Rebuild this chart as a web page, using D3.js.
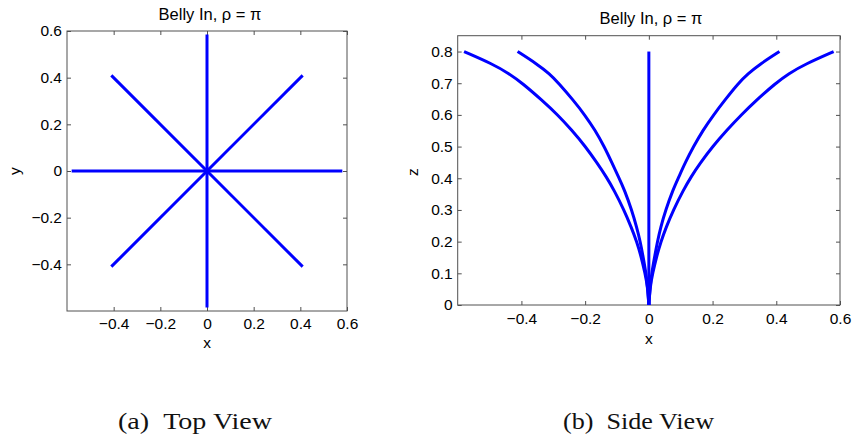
<!DOCTYPE html>
<html>
<head>
<meta charset="utf-8">
<script src="https://cdn.jsdelivr.net/npm/d3@7"></script>
<style>
  html, body { margin: 0; padding: 0; background: #fff; }
  svg { display: block; }
  .tick text { font-family: "Liberation Sans", Arial, sans-serif; font-size: 15.5px; fill: #000; }
  .lbl { font-family: "Liberation Sans", Arial, sans-serif; font-size: 15.5px; fill: #000; }
  .ttl { font-family: "Liberation Sans", Arial, sans-serif; font-size: 16.5px; fill: #000; }
  .cap { font-family: "Liberation Serif", "DejaVu Serif", serif; font-size: 24px; fill: #111; }
</style>
</head>
<body>
<svg id="fig" width="854" height="439"></svg>
<script>
// ---- Top view: eight spokes from the origin, end points (x, y) ----
const spokeEndX = [0.58, 0.41, 0, -0.41, -0.58, -0.41, 0, 0.41];
const spokeEndY = [0, 0.41, 0.585, 0.41, 0, -0.41, -0.585, -0.41];

const topTicks = [-0.4, -0.2, 0, 0.2, 0.4, 0.6];
const topTickLabels = ["\u22120.4", "\u22120.2", "0", "0.2", "0.4", "0.6"];

// ---- Side view: profiles (x, z) of the five projected curves ----
const outerRightX = [0, 0.004, 0.012, 0.024, 0.038, 0.054, 0.077, 0.108, 0.132, 0.162, 0.200, 0.245, 0.290, 0.337, 0.398, 0.438, 0.492, 0.580];
const outerRightZ = [0, 0.058, 0.1, 0.152, 0.2, 0.245, 0.3, 0.362, 0.404, 0.449, 0.5, 0.552, 0.6, 0.646, 0.7, 0.730, 0.761, 0.8];
const innerRightX = [0, 0.004, 0.009, 0.018, 0.027, 0.037, 0.053, 0.075, 0.094, 0.114, 0.140, 0.170, 0.203, 0.238, 0.281, 0.311, 0.350, 0.410];
const innerRightZ = [0, 0.058, 0.1, 0.152, 0.2, 0.245, 0.3, 0.362, 0.404, 0.449, 0.5, 0.552, 0.6, 0.646, 0.7, 0.730, 0.761, 0.8];
const outerLeftX = [0, -0.004, -0.012, -0.024, -0.038, -0.055, -0.078, -0.109, -0.133, -0.163, -0.199, -0.242, -0.286, -0.335, -0.397, -0.438, -0.491, -0.580];
const outerLeftZ = [0, 0.058, 0.1, 0.152, 0.2, 0.245, 0.3, 0.362, 0.404, 0.449, 0.5, 0.552, 0.6, 0.646, 0.7, 0.730, 0.761, 0.8];
const innerLeftX = [0, -0.004, -0.009, -0.018, -0.027, -0.038, -0.054, -0.076, -0.095, -0.116, -0.140, -0.169, -0.201, -0.237, -0.283, -0.312, -0.352, -0.412];
const innerLeftZ = [0, 0.058, 0.1, 0.152, 0.2, 0.245, 0.3, 0.362, 0.404, 0.449, 0.5, 0.552, 0.6, 0.646, 0.7, 0.730, 0.761, 0.8];
const centerX = [0, 0];
const centerZ = [0, 0.8];

const sideXTicks = [-0.4, -0.2, 0, 0.2, 0.4, 0.6];
const sideXTickLabels = ["\u22120.4", "\u22120.2", "0", "0.2", "0.4", "0.6"];
const sideZTicks = [0, 0.1, 0.2, 0.3, 0.4, 0.5, 0.6, 0.7, 0.8];
const sideZTickLabels = ["0", "0.1", "0.2", "0.3", "0.4", "0.5", "0.6", "0.7", "0.8"];

const titleText = "Belly In, \u03c1 = \u03c0";
const captions = ["(a)\u2002Top View", "(b)\u2002Side View"];

const svg = d3.select("#fig");
const LINE = "#0000ff";
const AXIS = "#505050";

function zip(xs, ys) { return xs.map((x, i) => [x, ys[i]]); }

// Draws a boxed axes frame with inward ticks on all four sides
function frame(g, x, y, xt, xl, yt, yl, xPad, yPad) {
  const [x0, x1] = x.range();
  const [y0, y1] = y.range();
  const bottom = g.append("g").attr("transform", `translate(0,${y0})`)
    .call(d3.axisBottom(x).tickValues(xt).tickFormat((d, i) => xl[i]).tickSize(-4).tickPadding(xPad));
  const top = g.append("g").attr("transform", `translate(0,${y1})`)
    .call(d3.axisTop(x).tickValues(xt).tickFormat("").tickSize(-4));
  const left = g.append("g").attr("transform", `translate(${x0},0)`)
    .call(d3.axisLeft(y).tickValues(yt).tickFormat((d, i) => yl[i]).tickSize(-4).tickPadding(yPad));
  const right = g.append("g").attr("transform", `translate(${x1},0)`)
    .call(d3.axisRight(y).tickValues(yt).tickFormat("").tickSize(-4));
  [bottom, top, left, right].forEach(a => {
    a.select(".domain").remove();
    a.selectAll(".tick line").attr("stroke", AXIS);
    a.attr("font-family", null).attr("font-size", null);
  });
  g.append("rect")
    .attr("x", x0).attr("y", y1)
    .attr("width", x1 - x0).attr("height", y0 - y1)
    .attr("fill", "none").attr("stroke", AXIS).attr("stroke-width", 1);
}

// ---------- (a) Top view ----------
{
  const g = svg.append("g");
  const x = d3.scaleLinear().domain([-0.6, 0.6]).range([67, 347]);
  const y = d3.scaleLinear().domain([-0.6, 0.6]).range([311, 31]);
  frame(g, x, y, topTicks, topTickLabels, topTicks, topTickLabels, 7, 5);

  const line = d3.line().x(d => x(d[0])).y(d => y(d[1]));
  g.append("g").selectAll("path")
    .data(spokeEndX.map((ex, i) => [[0, 0], [ex, spokeEndY[i]]]))
    .join("path")
    .attr("d", line)
    .attr("fill", "none").attr("stroke", LINE).attr("stroke-width", 3);

  g.append("text").attr("class", "ttl").attr("x", 210).attr("y", 20)
    .attr("text-anchor", "middle").text(titleText);
  g.append("text").attr("class", "lbl").attr("x", x(0)).attr("y", 348)
    .attr("text-anchor", "middle").text("x");
  g.append("text").attr("class", "lbl")
    .attr("transform", `translate(20,${y(0)}) rotate(-90)`)
    .attr("text-anchor", "middle").text("y");
  g.append("text").attr("class", "cap").attr("x", 118).attr("y", 429)
    .attr("textLength", 154).attr("lengthAdjust", "spacingAndGlyphs").text(captions[0]);
}

// ---------- (b) Side view ----------
{
  const g = svg.append("g");
  const x = d3.scaleLinear().domain([-0.6, 0.6]).range([457.7, 840]);
  const y = d3.scaleLinear().domain([0, 0.85]).range([305, 35.7]);
  frame(g, x, y, sideXTicks, sideXTickLabels, sideZTicks, sideZTickLabels, 8, 5);

  const line = d3.line().x(d => x(d[0])).y(d => y(d[1])).curve(d3.curveBasis);
  const curves = [
    zip(outerLeftX, outerLeftZ),
    zip(innerLeftX, innerLeftZ),
    zip(centerX, centerZ),
    zip(innerRightX, innerRightZ),
    zip(outerRightX, outerRightZ)
  ];
  g.append("g").selectAll("path")
    .data(curves)
    .join("path")
    .attr("d", line)
    .attr("fill", "none").attr("stroke", LINE).attr("stroke-width", 3)
    .attr("stroke-linejoin", "round");

  g.append("text").attr("class", "ttl").attr("x", 651).attr("y", 24)
    .attr("text-anchor", "middle").text(titleText);
  g.append("text").attr("class", "lbl").attr("x", x(0)).attr("y", 344)
    .attr("text-anchor", "middle").text("x");
  g.append("text").attr("class", "lbl")
    .attr("transform", `translate(418,172) rotate(-90)`)
    .attr("text-anchor", "middle").text("z");
  g.append("text").attr("class", "cap").attr("x", 563).attr("y", 429)
    .attr("textLength", 151).attr("lengthAdjust", "spacingAndGlyphs").text(captions[1]);
}
</script>
</body>
</html>
